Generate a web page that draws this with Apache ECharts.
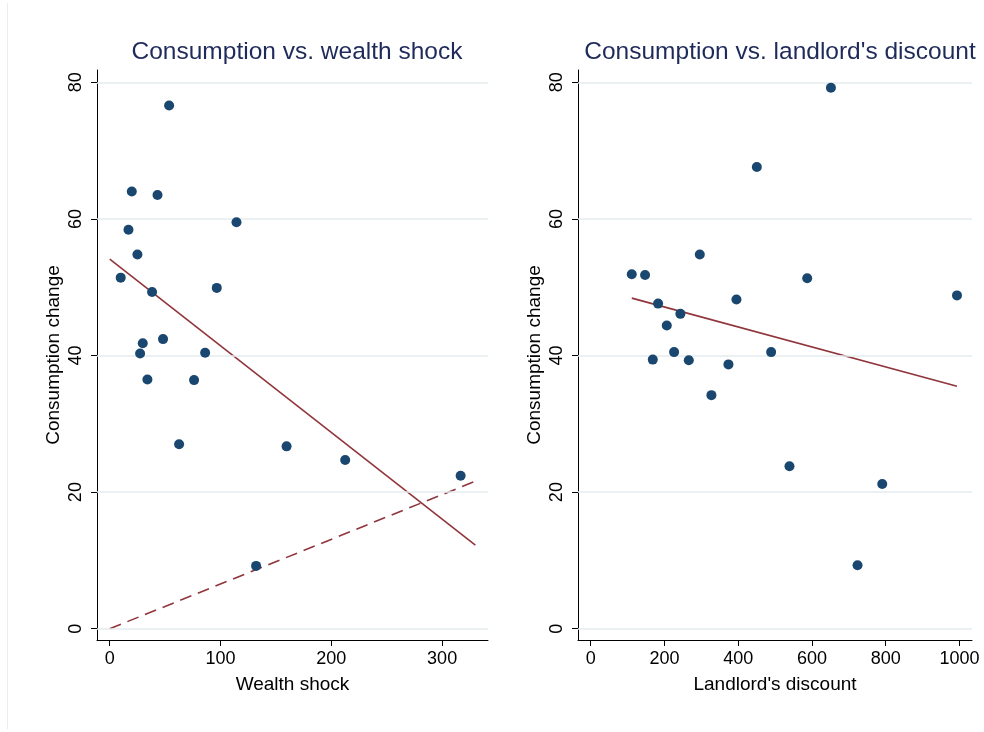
<!DOCTYPE html>
<html>
<head>
<meta charset="utf-8">
<script src="https://cdn.jsdelivr.net/npm/echarts@6/dist/echarts.min.js"></script>
<style>html,body{margin:0;padding:0;background:#fff;}#c{width:984px;height:732px;}</style>
</head>
<body>
<div id="c"></div>
<script>
// ---- data ----
var wealthShock = [53.6, 19.9, 43.1, 16.9, 114.4, 25.0, 9.9, 38.2, 96.6, 29.8, 48.1, 27.4, 86.1, 34.0, 76.1, 62.6, 159.6, 212.5, 316.7, 132.1];
var consWealth  = [76.6, 64.0, 63.5, 58.4, 59.5, 54.8, 51.4, 49.3, 49.9, 41.8, 42.4, 40.3, 40.4, 36.5, 36.4, 27.0, 26.7, 24.7, 22.4, 9.2];
var discount    = [651.4, 450.5, 295.8, 111.3, 147.4, 587.1, 993.3, 182.7, 395.2, 243.2, 206.3, 168.3, 226.1, 266.0, 373.5, 489.3, 327.3, 539.0, 790.6, 723.6];
var consDisc    = [79.2, 67.6, 54.8, 51.9, 51.8, 51.3, 48.8, 47.6, 48.2, 46.1, 44.4, 39.4, 40.5, 39.3, 38.7, 40.5, 34.2, 23.8, 21.2, 9.3];
// fitted lines (endpoints)
var fitWealthX  = [0, 330];
var fitWealthY  = [54.1, 12.25];
var refWealthX  = [0, 330];
var refWealthY  = [0, 21.6];
var fitDiscX    = [111.3, 993.3];
var fitDiscY    = [48.4, 35.5];
// ticks
var yTicks      = [0, 20, 40, 60, 80];
var xTicksLeft  = [0, 100, 200, 300];
var xTicksRight = [0, 200, 400, 600, 800, 1000];

function pairs(xs, ys){ return xs.map(function(x,i){ return [x, ys[i]]; }); }

var FONT = 'Liberation Sans, Arial, sans-serif';
var NAVY = '#1a476f';
var MAROON = '#90353b';
function plain(v){ return String(v); }

function xAxisCfg(idx, name, min, max, ticks){
  return {
    type:'value', gridIndex: idx, min: min, max: max, name: name,
    nameLocation:'middle', nameGap: 35,
    nameTextStyle:{fontFamily:FONT, fontSize:19, color:'#000'},
    axisLine:{show:true, onZero:false, lineStyle:{color:'#000', width:1}},
    axisTick:{show:true, length:6, customValues: ticks, lineStyle:{color:'#000'}},
    axisLabel:{customValues: ticks, formatter: plain, fontFamily:FONT, fontSize:18, color:'#000', margin:10},
    splitLine:{show:false}
  };
}
function yAxisCfg(idx){
  return {
    type:'value', gridIndex: idx, min: -1.65, max: 81.8, name:'Consumption change',
    nameLocation:'middle', nameGap: 34, nameRotate: 90,
    nameTextStyle:{fontFamily:FONT, fontSize:19, color:'#000'},
    axisLine:{show:true, onZero:false, lineStyle:{color:'#000', width:1}},
    axisTick:{show:true, length:6, customValues: yTicks, lineStyle:{color:'#000'}},
    axisLabel:{customValues: yTicks, formatter: plain, rotate:90, fontFamily:FONT, fontSize:18, color:'#000', margin:12},
    splitLine:{show:false}
  };
}
function gridLines(idx){
  return {
    type:'line', xAxisIndex: idx, yAxisIndex: idx, data: [], z:1, silent:true,
    markLine:{silent:true, symbol:'none', animation:false, label:{show:false},
      lineStyle:{color:'#e4ecef', width:1.5, type:'solid'},
      data: yTicks.map(function(v){ return {yAxis: v}; })}
  };
}

var option = {
  animation:false,
  backgroundColor:'#fff',
  title:[
    {text:'Consumption vs. wealth shock', left:292, top:35, textAlign:'center',
     textStyle:{fontFamily:FONT, fontSize:24.5, fontWeight:'normal', color:'#1e2a5a'}},
    {text:"Consumption vs. landlord's discount", left:775, top:35, textAlign:'center',
     textStyle:{fontFamily:FONT, fontSize:24.5, fontWeight:'normal', color:'#1e2a5a'}}
  ],
  grid:[
    {left:97, top:70, width:391, height:570},
    {left:578, top:70, width:394, height:570}
  ],
  xAxis:[
    xAxisCfg(0, 'Wealth shock', -11.5, 341.4, xTicksLeft),
    xAxisCfg(1, "Landlord's discount", -34.5, 1034, xTicksRight)
  ],
  yAxis:[ yAxisCfg(0), yAxisCfg(1) ],
  graphic:[
    {type:'line', shape:{x1:7.5, y1:3, x2:7.5, y2:729}, style:{stroke:'#ececec', lineWidth:1}}
  ],
  series:[
    gridLines(0), gridLines(1),
    {type:'scatter', xAxisIndex:0, yAxisIndex:0, data: pairs(wealthShock, consWealth), symbolSize:10, z:5,
     itemStyle:{color:NAVY, opacity:1}},
    {type:'line', xAxisIndex:0, yAxisIndex:0, data: pairs(fitWealthX, fitWealthY), showSymbol:false, symbol:'none', z:4,
     lineStyle:{color:MAROON, width:1.6}},
    {type:'line', xAxisIndex:0, yAxisIndex:0, data: pairs(refWealthX, refWealthY), showSymbol:false, symbol:'none', z:4,
     lineStyle:{color:MAROON, width:1.6, type:[12,7]}},
    {type:'scatter', xAxisIndex:1, yAxisIndex:1, data: pairs(discount, consDisc), symbolSize:10, z:5,
     itemStyle:{color:NAVY, opacity:1}},
    {type:'line', xAxisIndex:1, yAxisIndex:1, data: pairs(fitDiscX, fitDiscY), showSymbol:false, symbol:'none', z:4,
     lineStyle:{color:MAROON, width:1.6}}
  ]
};
var chart = echarts.init(document.getElementById('c'), null, {renderer:'canvas'});
chart.setOption(option);
</script>
</body>
</html>
